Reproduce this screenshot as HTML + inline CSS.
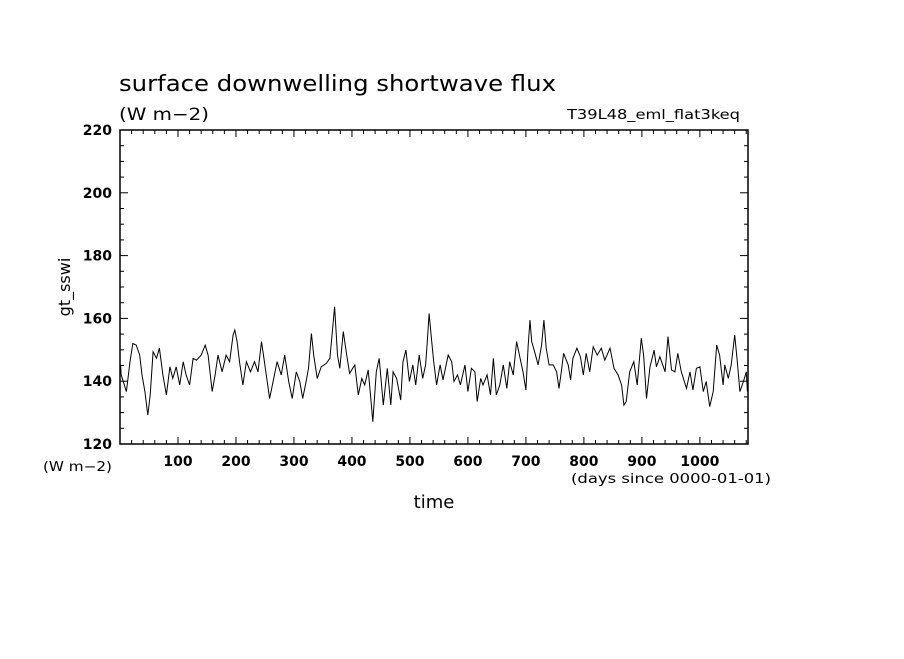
<!DOCTYPE html>
<html><head><meta charset="utf-8"><style>
body{margin:0;background:#fff}
svg text{font-family:"DejaVu Sans","Liberation Sans",sans-serif;fill:#000}
</style></head><body>
<svg width="904" height="654" viewBox="0 0 904 654" xmlns="http://www.w3.org/2000/svg">
<rect width="904" height="654" fill="#fff"/>
<text x="119" y="91" font-size="22" textLength="437" lengthAdjust="spacingAndGlyphs">surface downwelling shortwave flux</text>
<text x="119" y="120" font-size="17" textLength="90" lengthAdjust="spacingAndGlyphs">(W m−2)</text>
<text x="567" y="119" font-size="13" textLength="173" lengthAdjust="spacingAndGlyphs">T39L48_eml_flat3keq</text>
<text x="70" y="287" font-size="16" text-anchor="middle" transform="rotate(-90 70 287)">gt_sswi</text>
<text x="434" y="508" font-size="18" text-anchor="middle">time</text>
<text x="43" y="471" font-size="13" textLength="69" lengthAdjust="spacingAndGlyphs">(W m−2)</text>
<text x="571" y="483" font-size="13" textLength="200" lengthAdjust="spacingAndGlyphs">(days since 0000-01-01)</text>
<g id="axes"></g>
<path id="series" fill="none" stroke="#000" stroke-width="1"/>
<rect x="120" y="130" width="628" height="314" fill="none" stroke="#000" stroke-width="1.5"/>
</svg>
<script>
const days=[1,2,11,17,22,28,34,38,43,48,52,57,63,68,74,80,86,91,97,103,109,114,120,126,132,140,147,152,159,164,169,176,183,189,195,198,202,206,212,218,225,232,238,244,249,258,264,271,278,284,291,297,304,310,315,321,325,330,334,340,347,356,362,370,375,379,385,391,396,405,411,417,422,428,432,436,442,447,454,461,467,471,477,484,488,493,499,505,510,516,522,527,530,533,537,541,546,552,557,566,572,576,582,587,595,600,606,612,616,622,626,633,639,644,649,655,661,667,672,678,684,690,695,700,704,707,710,715,721,727,731,735,740,747,753,757,761,765,773,777,781,788,794,799,804,810,816,823,830,836,845,852,859,865,869,873,879,886,892,899,903,908,914,921,925,931,940,945,951,957,962,968,977,983,988,994,1000,1006,1011,1017,1023,1029,1034,1040,1043,1049,1054,1060,1064,1069,1075,1080,1082];
const values=[145,142,136.7,146,152,151.5,148.3,142,136.7,129.2,135.6,149.4,147.3,150.5,142,135.6,144.6,140.9,144.6,138.8,146.2,142,138.8,147.3,146.7,148.3,151.5,148.3,136.7,142,148.3,143,148.3,146.2,154.7,156.3,152.6,146.2,138.8,146.2,143,146.2,143,152.6,146.2,134.5,139.9,146.2,142,148.3,139.9,134.5,143,139.9,134.5,139.9,144.1,155.2,148.3,140.9,144.6,145.7,147.3,163.7,148.3,144.1,155.8,148.3,142.5,145.2,135.6,140.9,138.8,143.6,135.6,127.1,143,147.3,132.4,144.1,132.4,143,140.9,134,146.2,149.9,139.9,145.2,138.8,148.3,140.9,145.2,152.6,161.6,153.7,146.2,138.8,145.2,140.4,148.3,146.2,139.9,142,138.8,145.2,136.7,144.1,143,133.5,140.9,138.8,142,135.6,147.3,135.6,138.8,145.2,137.7,146.2,142,152.6,147.3,143,137.2,151.5,159.5,152.6,149.4,145.2,151.5,159.5,150.5,145.2,145.2,143,137.7,143,148.9,145.2,140.4,147.3,150.5,147.8,142,148.9,143,151,148.3,150.5,146.7,150.5,144.1,142,138.8,132.4,133.5,143,146.2,138.8,153.7,148.3,134.5,144.6,149.9,144.6,147.8,143,154.2,143.6,143,148.9,143,137.7,143,137.2,144.1,144.6,136.7,139.9,131.9,136.7,151.5,148.3,138.8,145.2,140.9,145.2,154.7,147.3,136.7,139.9,143,136.7];
const xTicks=[100,200,300,400,500,600,700,800,900,1000];
const yTicks=[120,140,160,180,200,220];
const X0=120,X1=748,Y0=444,Y1=130,DMAX=1083,VMIN=120,VMAX=220;
const sx=d=>X0+(d/DMAX)*(X1-X0);
const sy=v=>Y0-(v-VMIN)/(VMAX-VMIN)*(Y0-Y1);
const NS="http://www.w3.org/2000/svg";
const g=document.getElementById('axes');
function ln(x1,y1,x2,y2,w){const l=document.createElementNS(NS,'line');l.setAttribute('x1',x1);l.setAttribute('y1',y1);l.setAttribute('x2',x2);l.setAttribute('y2',y2);l.setAttribute('stroke','#000');l.setAttribute('stroke-width',w||1);


g.appendChild(l);}
function tx(x,y,s,a){const t=document.createElementNS(NS,'text');t.setAttribute('x',x);t.setAttribute('y',y);t.setAttribute('font-size','14');t.setAttribute('font-weight','bold');t.setAttribute('text-anchor',a);t.textContent=s;


g.appendChild(t);}
for(let d=20;d<DMAX;d+=20){const x=sx(d);const maj=d%100===0;const L=maj?7:4;ln(x,Y0,x,Y0-L);ln(x,Y1,x,Y1+L);}
xTicks.forEach(d=>tx(sx(d),466,String(d),'middle'));
for(let v=VMIN+5;v<VMAX;v+=5){const y=sy(v);const maj=v%20===0;const L=maj?8:4;ln(X0,y,X0+L,y);ln(X1,y,X1-L,y);}
yTicks.forEach(v=>tx(X0-8,sy(v)+5,String(v),'end'));
document.getElementById('series').setAttribute('d',days.map((d,i)=>(i?'L':'M')+sx(d).toFixed(1)+' '+sy(values[i]).toFixed(1)).join(' '));
</script>
</body></html>
